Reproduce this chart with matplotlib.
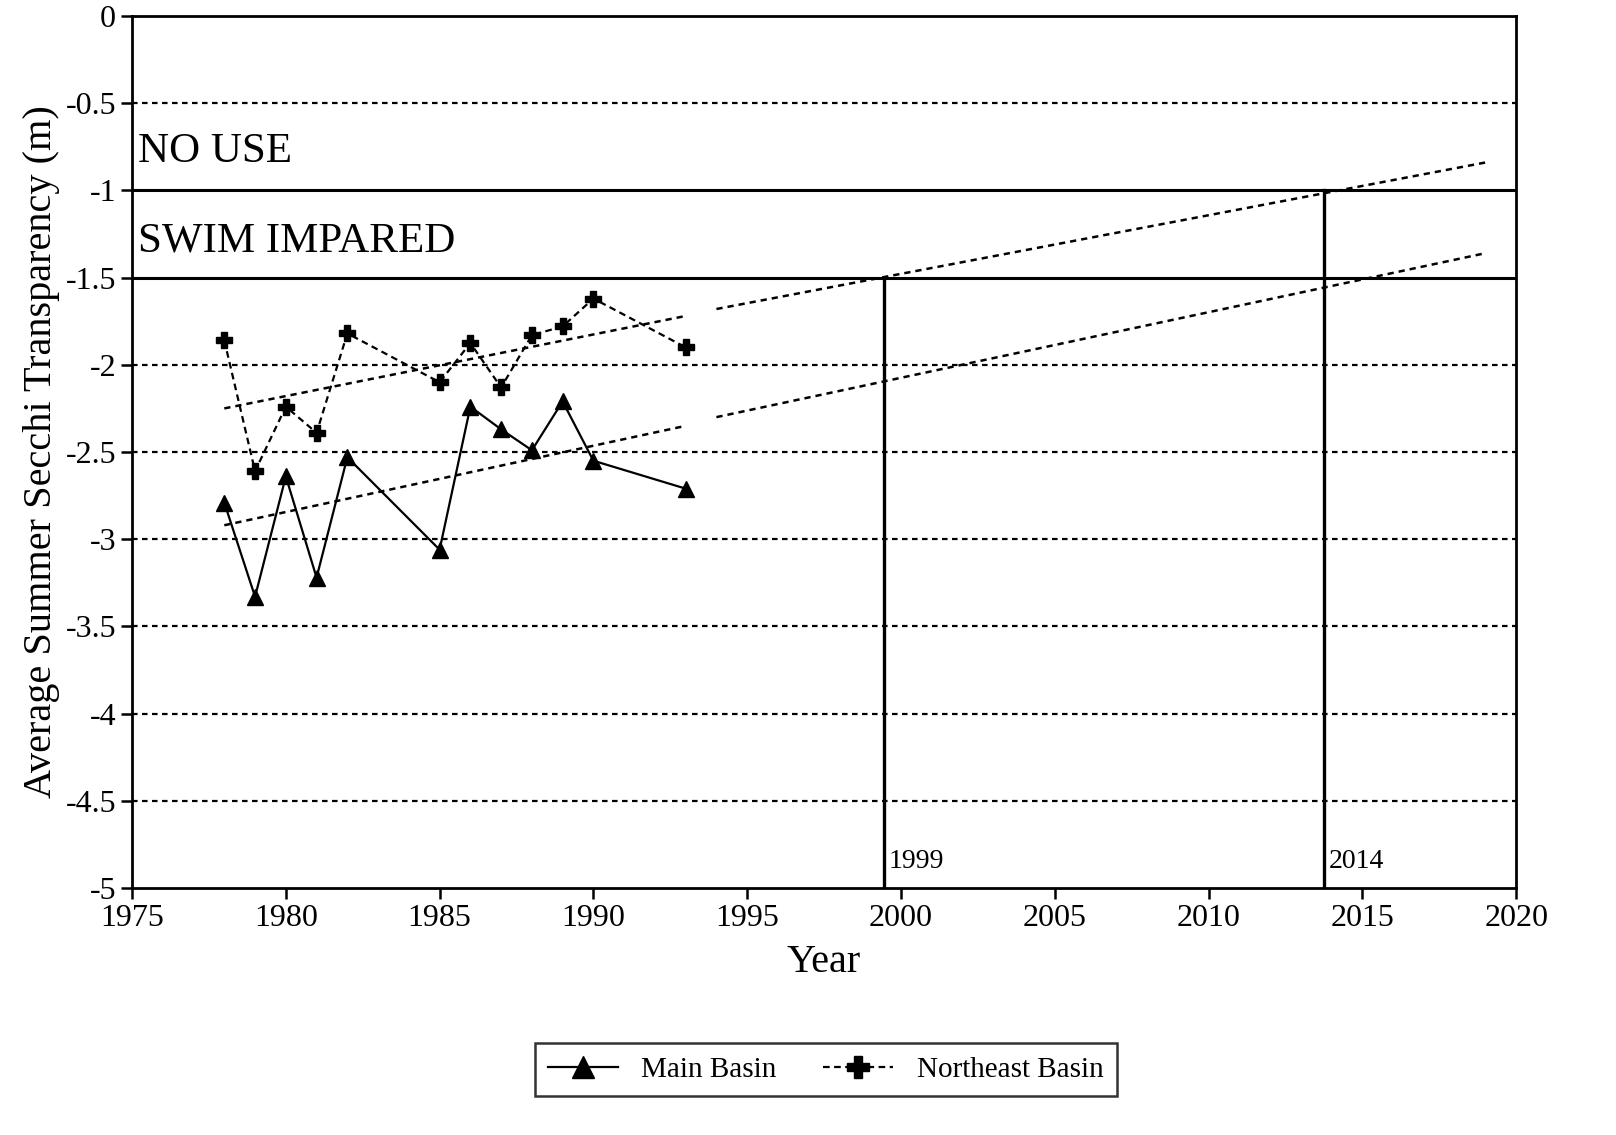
import numpy as np
import matplotlib
matplotlib.use("Agg")
import matplotlib.pyplot as plt

plt.rcParams['font.family'] = ['Liberation Serif', 'DejaVu Serif']

# --- data ---
years = [1978, 1979, 1980, 1981, 1982, 1985, 1986, 1987, 1988, 1989, 1990, 1993]
main_basin = [-2.79, -3.33, -2.64, -3.22, -2.53, -3.06, -2.24, -2.37, -2.49, -2.21, -2.55, -2.71]
ne_basin = [-1.86, -2.61, -2.24, -2.39, -1.82, -2.10, -1.875, -2.13, -1.83, -1.78, -1.62, -1.90]

# trend lines: fitted segment and projected segment (endpoints)
main_trend_x = [1978, 1993]
main_trend_y = [-2.92, -2.35]
main_proj_x = [1994, 2019]
main_proj_y = [-2.30, -1.36]
ne_trend_x = [1978, 1993]
ne_trend_y = [-2.25, -1.72]
ne_proj_x = [1994, 2019]
ne_proj_y = [-1.68, -0.84]

use_limits = [-1.0, -1.5]
grid_levels = [-0.5, -2, -2.5, -3, -3.5, -4, -4.5]
# years where projected trends cross the limits, and the limit each reaches
cross_years = [1999.45, 2013.75]
cross_levels = [-1.5, -1.0]
cross_labels = ["1999", "2014"]

fig = plt.figure(figsize=(16.16, 11.35), dpi=100)
ax = fig.add_axes([0.0817, 0.2176, 0.8565, 0.7683])

for g in grid_levels:
    ax.axhline(g, color='black', lw=1.6, ls=(0, (2.5, 2.0)), zorder=1)
for u in use_limits:
    ax.axhline(u, color='black', lw=2.2, zorder=2)
for cx, cy, cl in zip(cross_years, cross_levels, cross_labels):
    ax.plot([cx, cx], [-5, cy], color='black', lw=2.4, zorder=2)
    ax.text(cx + 0.15, -4.85, cl, fontsize=20, va='center', ha='left')

dash = (0, (2.5, 2.0))
ax.plot(main_trend_x, main_trend_y, color='black', lw=1.8, ls=dash, zorder=3)
ax.plot(main_proj_x, main_proj_y, color='black', lw=1.8, ls=dash, zorder=3)
ax.plot(ne_trend_x, ne_trend_y, color='black', lw=1.8, ls=dash, zorder=3)
ax.plot(ne_proj_x, ne_proj_y, color='black', lw=1.8, ls=dash, zorder=3)

ax.plot(years, main_basin, color='black', lw=1.6, marker='^', ms=11,
        label='Main Basin', zorder=4)
ax.plot(years, ne_basin, color='black', lw=1.6, ls=(0, (3, 2)), marker='P', ms=11,
        label='Northeast Basin', zorder=4)

ax.text(1975.2, -0.78, "NO USE", fontsize=31, va='center', ha='left')
ax.text(1975.2, -1.29, "SWIM IMPARED", fontsize=31, va='center', ha='left')

ax.set_xlim(1975, 2020)
ax.set_ylim(-5, 0)
ax.set_xticks(np.arange(1975, 2021, 5))
ax.set_yticks(np.arange(-5, 0.01, 0.5))
ax.set_yticklabels(['-5', '-4.5', '-4', '-3.5', '-3', '-2.5', '-2', '-1.5', '-1', '-0.5', '0'])
ax.tick_params(labelsize=23, width=1.8, length=8, direction='out')
for s in ax.spines.values():
    s.set_linewidth(2.0)

ax.set_xlabel("Year", fontsize=29, labelpad=8)
ax.set_ylabel("Average Summer Secchi Transparency (m)", fontsize=29, labelpad=4)

leg = fig.legend(loc='center', bbox_to_anchor=(0.511, 0.0577), ncol=2, fontsize=21,
                 frameon=True, fancybox=False, edgecolor='black', handlelength=2.4,
                 columnspacing=1.6, borderpad=0.45, markerscale=1.5)
leg.get_frame().set_linewidth(1.8)

fig.savefig("out.png", dpi=100)
